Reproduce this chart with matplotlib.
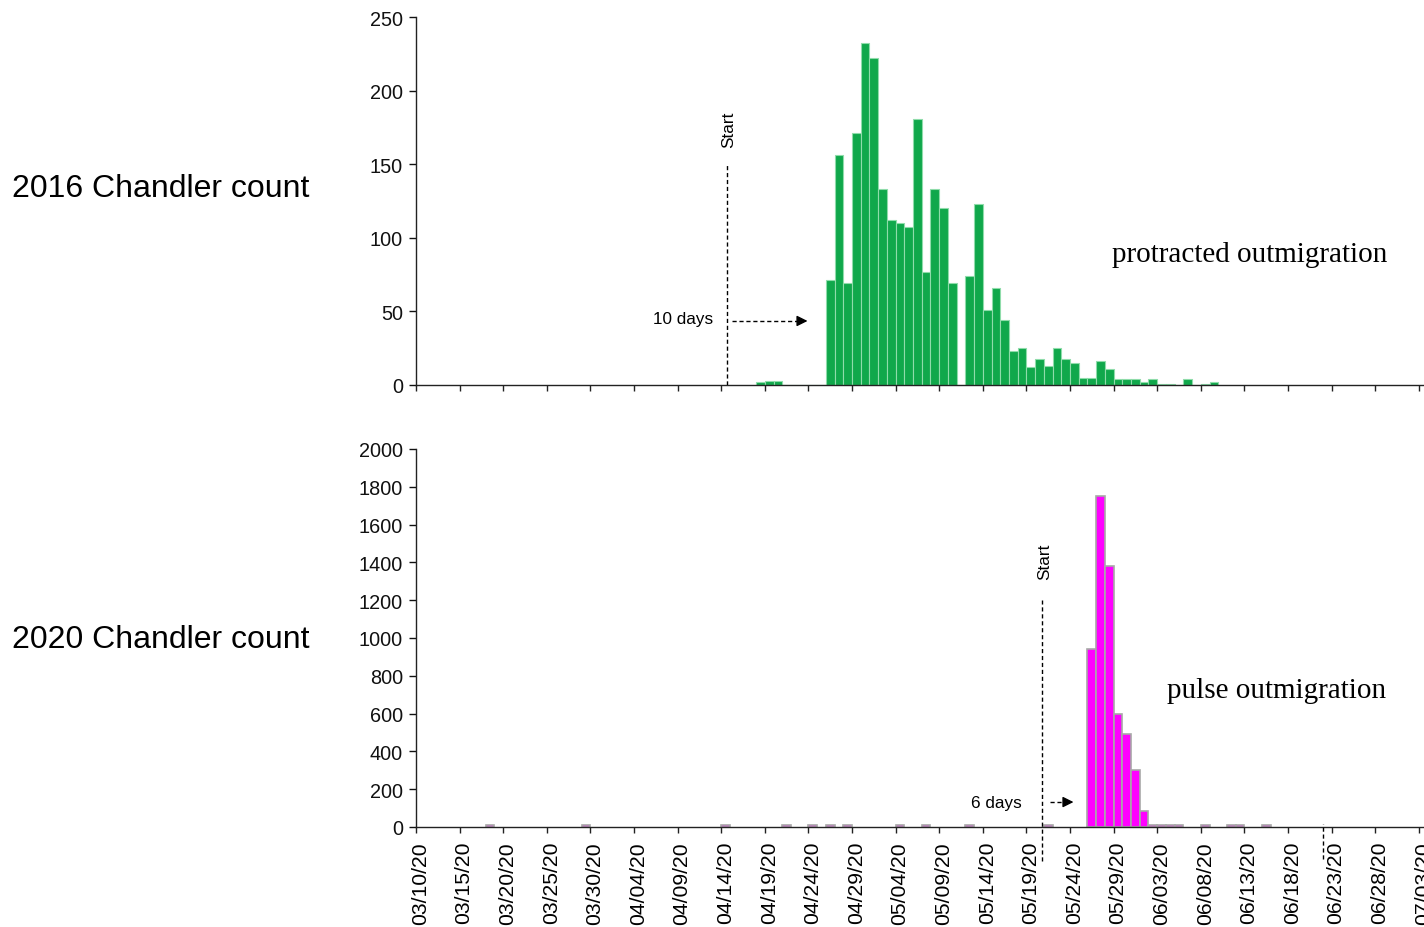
import matplotlib
matplotlib.use('Agg')
import matplotlib.pyplot as plt
import pandas as pd

plt.rcParams['font.family'] = ['Liberation Sans', 'DejaVu Sans']

# ---------------- data ----------------
axis_start = '03/10/20'
tick_labels = ['03/10/20', '03/15/20', '03/20/20', '03/25/20', '03/30/20', '04/04/20',
               '04/09/20', '04/14/20', '04/19/20', '04/24/20', '04/29/20', '05/04/20',
               '05/09/20', '05/14/20', '05/19/20', '05/24/20', '05/29/20', '06/03/20',
               '06/08/20', '06/13/20', '06/18/20', '06/23/20', '06/28/20', '07/03/20']

# 2016 daily counts, consecutive days starting 04/18
start_2016 = '04/18/20'
counts_2016 = [2, 3, 3, 0, 0, 0, 0, 0,
               71, 156, 69, 171, 232, 222, 133, 112, 110, 107, 181, 77, 133, 120, 69,
               0, 74, 123, 51, 66, 44, 23, 25, 12, 18, 13, 25, 18, 15, 5, 5, 16, 11,
               4, 4, 4, 2, 4, 1, 1, 0, 4, 0, 1, 2]

# 2020 daily counts
dates_2020 = ['03/18/20', '03/29/20', '04/14/20', '04/21/20', '04/24/20', '04/26/20',
              '04/28/20', '05/04/20', '05/07/20', '05/12/20', '05/21/20',
              '05/26/20', '05/27/20', '05/28/20', '05/29/20', '05/30/20', '05/31/20',
              '06/01/20', '06/02/20', '06/03/20', '06/04/20', '06/05/20', '06/08/20',
              '06/11/20', '06/12/20', '06/15/20']
counts_2020 = [8, 8, 8, 8, 8, 8, 8, 8, 8, 8, 8,
               940, 1750, 1380, 600, 490, 300, 85,
               8, 8, 8, 8, 8, 8, 8, 8]

row_labels = ['2016 Chandler count', '2020 Chandler count']
notes = ['protracted outmigration', 'pulse outmigration']
lag_labels = ['10 days', '6 days']


def day_index(s):
    return (pd.to_datetime(s, format='%m/%d/%y') - pd.to_datetime(axis_start, format='%m/%d/%y')).days


x2016 = [day_index(start_2016) + i for i in range(len(counts_2016))]
x2020 = [day_index(d) for d in dates_2020]
tick_pos = [day_index(t) for t in tick_labels]

# ---------------- figure ----------------
W, H = 1424, 928
fig = plt.figure(figsize=(W / 100, H / 100), dpi=100)
pxday = 8.72
axw = 120 * pxday / W
ax1 = fig.add_axes([416 / W, 1 - 386 / H, axw, 368 / H])
ax2 = fig.add_axes([416 / W, 1 - 828 / H, axw, 378 / H])

for ax in (ax1, ax2):
    ax.set_xlim(-0.5, 119.5)
    for s in ('top', 'right'):
        ax.spines[s].set_visible(False)
    for s in ('left', 'bottom'):
        ax.spines[s].set_color('#222222')
        ax.spines[s].set_linewidth(1.0)
    ax.set_xticks([p - 0.5 for p in tick_pos])
    ax.set_xticklabels([])
    ax.tick_params(axis='y', direction='out', length=5, width=1, pad=4.5, labelsize=14.3, colors='#111111')
    ax.tick_params(axis='x', which='major', direction='out', length=4, width=1, color='#222222')

ax1.bar(x2016, counts_2016, width=1.0, color='#10A84B', edgecolor='#8fdcaa', linewidth=0.8, zorder=2)
ax1.set_ylim(0, 250)
ax1.set_yticks(range(0, 251, 50))

ax2.bar(x2020, counts_2020, width=1.0, color='#FF00FF', edgecolor='#A8A8A8', linewidth=1.2, zorder=2)
ax2.set_ylim(0, 2000)
ax2.set_yticks(range(0, 2001, 200))
ax2.set_xticks(tick_pos, minor=True)
ax2.set_xticklabels(tick_labels, minor=True, rotation=90, fontsize=15.2)
ax2.tick_params(axis='x', which='minor', length=0, pad=10)

# ---------------- annotations ----------------
dash = dict(color='black', linestyle=(0, (3, 2)), linewidth=1.0)

# top: start line, label, arrow
ax1.plot([35.2, 35.2], [0, 150], zorder=3, **dash)
ax1.text(35.3, 162, 'Start', rotation=90, ha='center', va='bottom', fontsize=12.3)
ax1.plot([35.7, 43.6], [43.5, 43.5], zorder=3, **dash)
ax1.annotate('', xy=(44.4, 43.5), xytext=(43.4, 43.5),
             arrowprops=dict(arrowstyle='-|>', color='black', lw=1, mutation_scale=16, shrinkA=0, shrinkB=0))
ax1.text(33.6, 45.5, lag_labels[0], ha='right', va='center', fontsize=12.3)
ax1.text(79.35, 84, notes[0], ha='left', va='baseline', fontsize=21,
         family=['Liberation Serif', 'DejaVu Serif'])

# bottom
ax2.plot([71.3, 71.3], [-180, 1200], zorder=3, clip_on=False, **dash)
ax2.plot([103.5, 103.5], [-170, 16], zorder=3, clip_on=False, **dash)
ax2.text(71.55, 1312, 'Start', rotation=90, ha='center', va='bottom', fontsize=12.3)
ax2.plot([72.2, 74.1], [132, 132], zorder=3, **dash)
ax2.annotate('', xy=(74.9, 132), xytext=(73.9, 132),
             arrowprops=dict(arrowstyle='-|>', color='black', lw=1, mutation_scale=16, shrinkA=0, shrinkB=0))
ax2.text(69.0, 127, lag_labels[1], ha='right', va='center', fontsize=12.3)
ax2.text(85.66, 688, notes[1], ha='left', va='baseline', fontsize=21,
         family=['Liberation Serif', 'DejaVu Serif'])

fig.text(12 / W, 1 - 189 / H, row_labels[0], fontsize=23, va='center', ha='left')
fig.text(12 / W, 1 - 640 / H, row_labels[1], fontsize=23, va='center', ha='left')

fig.savefig('out.png', dpi=100)
